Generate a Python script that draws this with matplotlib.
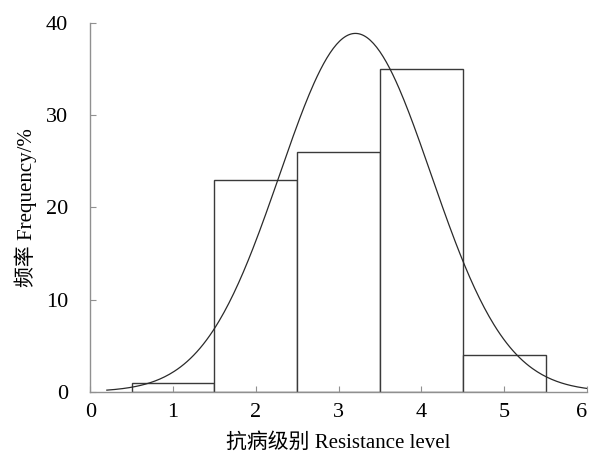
import numpy as np
import matplotlib
matplotlib.use("Agg")
import matplotlib.pyplot as plt

plt.rcParams['font.family'] = ['Liberation Serif', 'Noto Sans CJK SC']

# histogram data: resistance level vs frequency (%)
levels = [1, 2, 3, 4, 5]
freq = [1, 23, 26, 35, 4]

# fitted normal curve from the histogram itself
levels_arr = np.array(levels, dtype=float)
freq_arr = np.array(freq, dtype=float)
total = freq_arr.sum()
mu = (levels_arr * freq_arr).sum() / total
sd = np.sqrt((freq_arr * (levels_arr - mu) ** 2).sum() / total)
xs = np.linspace(0.2, 6, 300)
ys = total / (sd * np.sqrt(2 * np.pi)) * np.exp(-(xs - mu) ** 2 / (2 * sd ** 2))

fig = plt.figure(figsize=(5.9, 4.55), dpi=100)
ax = fig.add_axes([0.153, 0.139, 0.842, 0.811])

ax.bar(levels, freq, width=1.0, color='white', edgecolor='#3a3a3a', linewidth=1.0)
ax.plot(xs, ys, color='#2a2a2a', linewidth=0.9)

ax.set_xlim(0, 6)
ax.set_ylim(0, 40)
ax.set_xticks(range(0, 7))
ax.set_yticks(range(0, 41, 10))
for s in ['top', 'right']:
    ax.spines[s].set_visible(False)
for s in ['left', 'bottom']:
    ax.spines[s].set_color('#909090')
    ax.spines[s].set_linewidth(1.0)
ax.tick_params(direction='in', length=4, color='#909090', labelsize=16)
ax.tick_params(axis='y', pad=16)
ax.tick_params(axis='x', pad=8)
# last x label sits against the figure edge
ax.get_xticklabels()[-1].set_ha('right')

ax.set_xlabel('抗病级别 Resistance level', fontsize=15, labelpad=8)
ax.set_ylabel('频率 Frequency/%', fontsize=15, labelpad=6)

fig.savefig('out.png', dpi=100)
